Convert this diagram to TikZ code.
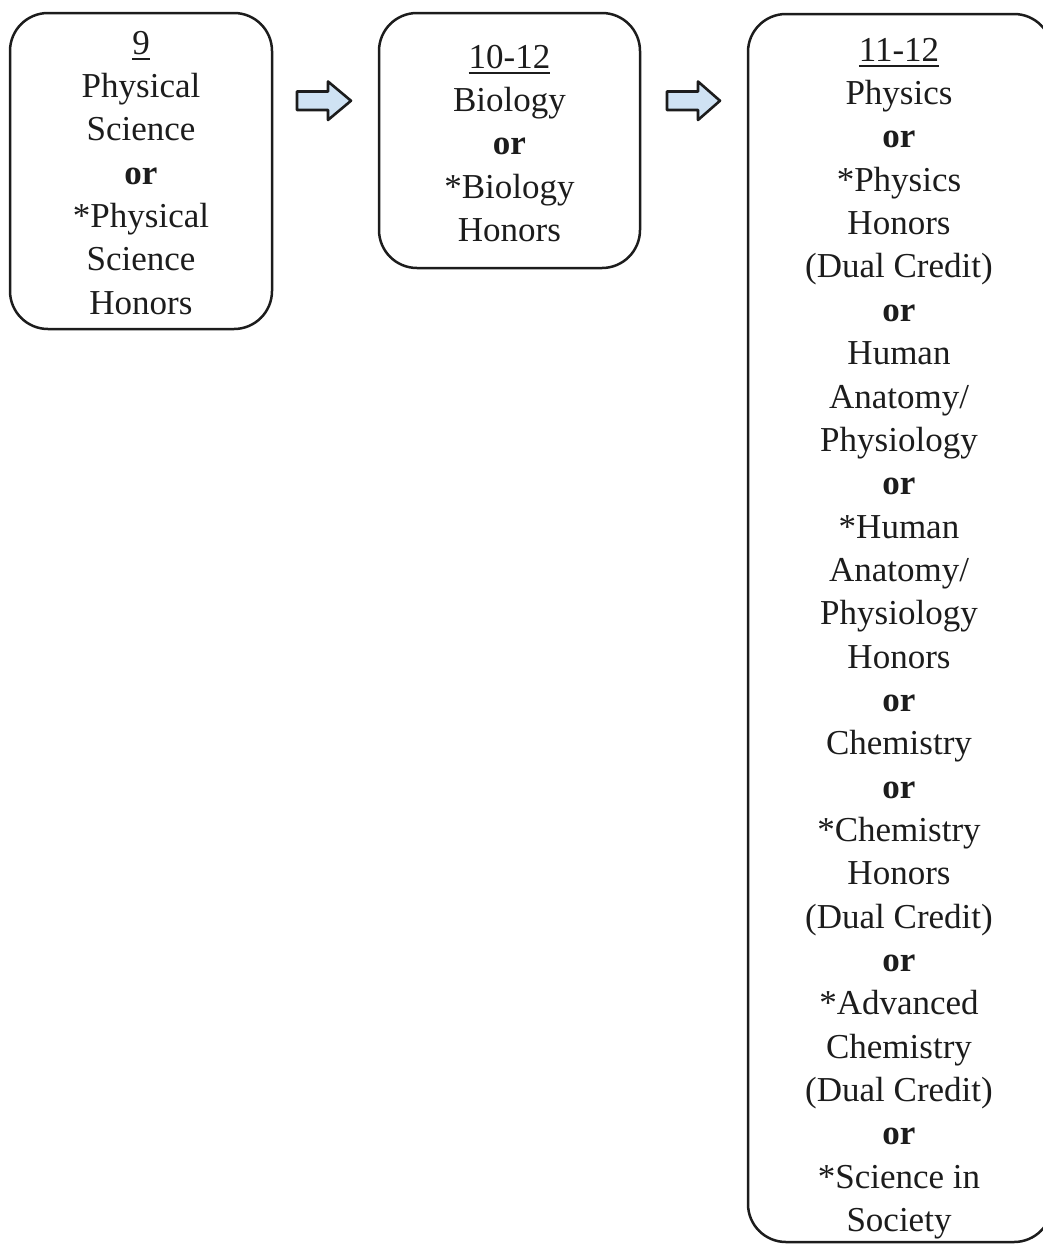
\documentclass[tikz,border=0pt]{standalone}
\usepackage{fontspec}
\setmainfont{Liberation Serif}
\definecolor{arrowblue}{HTML}{CFE2F3}
\definecolor{inkgray}{HTML}{1C1C1C}
\newcommand{\yearul}[1]{\setbox0=\hbox{#1}\rlap{\raisebox{-5.5pt}{\rule{\wd0}{2pt}}}\box0}
\begin{document}
\begin{tikzpicture}[x=1pt,y=-1pt,
  course/.style={draw=inkgray, line width=2.5pt, rounded corners=38pt, inner sep=0pt},
  courselabel/.style={anchor=north, inner sep=0pt, align=center,
    font=\fontsize{35pt}{43.35pt}\selectfont, text=inkgray},
  blockarrow/.style={draw=inkgray, line width=2.6pt, fill=arrowblue, line join=round}]
\useasboundingbox (0,0) rectangle (1042,1245);

% boxes
\node[course, minimum width=262pt, minimum height=316pt] (b1) at (141,171) {};
\node[course, minimum width=261pt, minimum height=255pt] (b2) at (509.5,140.5) {};
\node[course, minimum width=304pt, minimum height=1228pt] (b3) at (900,628) {};

% texts
\node[courselabel] (t1) at (141,24)
  {\rule{0pt}{30pt}\yearul{9}\\Physical\\Science\\\textbf{or}\\*Physical\\Science\\Honors};
\node[courselabel] (t2) at (509.5,38)
  {\rule{0pt}{30pt}\yearul{10-12}\\Biology\\\textbf{or}\\*Biology\\Honors};
\node[courselabel] (t3) at (899,31)
  {\rule{0pt}{30pt}\yearul{11-12}\\Physics\\\textbf{or}\\*Physics\\Honors\\(Dual Credit)\\\textbf{or}\\
   Human\\Anatomy/\\Physiology\\\textbf{or}\\*Human\\Anatomy/\\Physiology\\Honors\\\textbf{or}\\
   Chemistry\\\textbf{or}\\*Chemistry\\Honors\\(Dual Credit)\\\textbf{or}\\*Advanced\\Chemistry\\
   (Dual Credit)\\\textbf{or}\\*Science in\\Society};

% block arrows
\draw[blockarrow] (297,91.5) -- (328,91.5) -- (328,81.5) -- (351,100.75) -- (328,120)
  -- (328,110) -- (297,110) -- cycle;
\draw[blockarrow] (667,91.5) -- (698,91.5) -- (698,81.5) -- (720,100.75) -- (698,120)
  -- (698,110) -- (667,110) -- cycle;
\end{tikzpicture}
\end{document}
